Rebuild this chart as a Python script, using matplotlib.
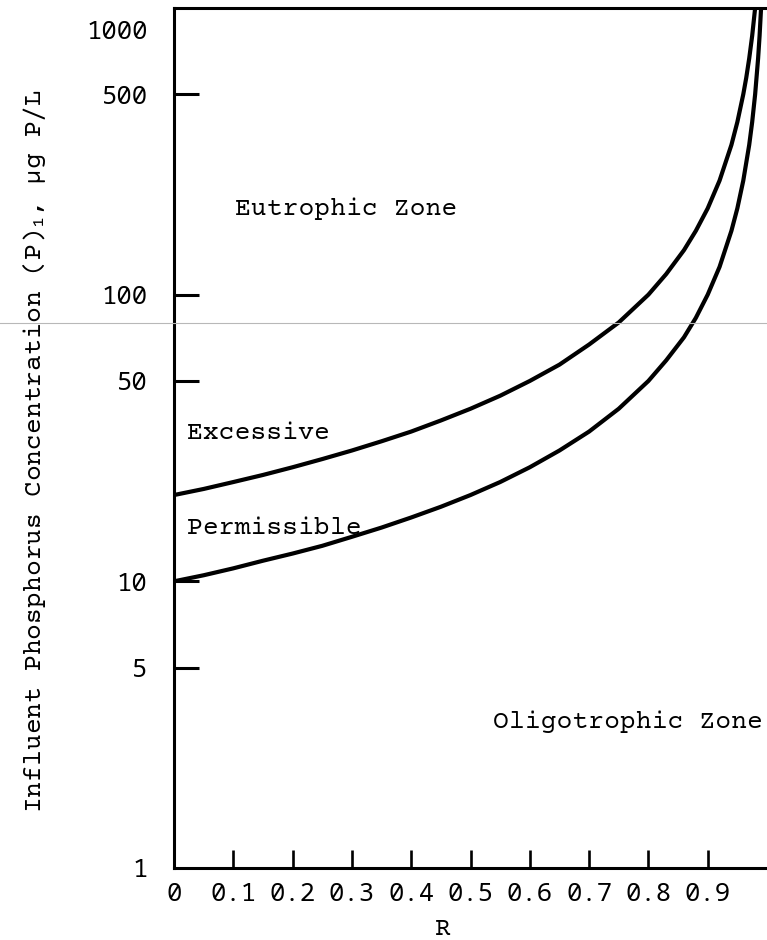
import matplotlib
matplotlib.use("Agg")
import matplotlib.pyplot as plt
from matplotlib.ticker import FixedLocator, FixedFormatter, NullFormatter
from matplotlib.transforms import ScaledTranslation
from matplotlib.lines import Line2D

# Boundary between "excessive" and "eutrophic" loading
r_upper = [0, 0.05, 0.1, 0.15, 0.2, 0.25, 0.3, 0.35, 0.4, 0.45, 0.5, 0.55,
           0.6, 0.65, 0.7, 0.75, 0.8, 0.83, 0.86, 0.88, 0.9, 0.92, 0.94,
           0.95, 0.96, 0.965, 0.97, 0.975, 0.98]
p_upper = [20, 21, 22.2, 23.5, 25, 26.7, 28.6, 30.8, 33.3, 36.4, 40, 44.4,
           50, 57, 67, 80, 100, 118, 143, 167, 200, 250, 333,
           400, 500, 571, 667, 800, 1000]

# Boundary between "permissible" and "oligotrophic" loading
r_lower = [0, 0.05, 0.1, 0.15, 0.2, 0.25, 0.3, 0.35, 0.4, 0.45, 0.5, 0.55,
           0.6, 0.65, 0.7, 0.75, 0.8, 0.83, 0.86, 0.88, 0.9, 0.92, 0.94,
           0.95, 0.96, 0.97, 0.975, 0.98, 0.985, 0.9875, 0.99]
p_lower = [10, 10.5, 11.1, 11.8, 12.5, 13.3, 14.3, 15.4, 16.7, 18.2, 20, 22.2,
           25, 28.6, 33.3, 40, 50, 59, 71, 83, 100, 125, 167,
           200, 250, 333, 400, 500, 667, 800, 1000]

x_ticks = [0, 0.1, 0.2, 0.3, 0.4, 0.5, 0.6, 0.7, 0.8, 0.9]
x_tick_labels = ["0", "0.1", "0.2", "0.3", "0.4", "0.5", "0.6", "0.7", "0.8", "0.9"]
x_marks = [0.1, 0.2, 0.3, 0.4, 0.5, 0.6, 0.7, 0.8, 0.9]

y_ticks = [1, 5, 10, 50, 100, 500, 1000]
y_tick_labels = ["1", "5", "10", "50", "100", "500", "1000"]
y_marks = [5, 10, 50, 100, 500]

zone_labels = ["Eutrophic Zone", "Excessive", "Permissible", "Oligotrophic Zone"]
zone_r = [0.103, 0.022, 0.022, 0.538]
zone_p = [200, 33, 15.3, 3.25]

TEXT_FONT = ["Courier Prime", "DejaVu Sans Mono"]
TICK_FONT = ["Noto Sans Mono", "DejaVu Sans Mono"]

plt.rcParams["mathtext.fontset"] = "custom"
plt.rcParams["mathtext.rm"] = "Courier Prime"
plt.rcParams["mathtext.it"] = "Courier Prime"

fig = plt.figure(figsize=(7.67, 9.40), dpi=100)
ax = fig.add_axes([0.2269, 0.0766, 0.7731, 0.9149])

ax.plot(r_upper, p_upper, color="black", lw=3, solid_capstyle="butt")
ax.plot(r_lower, p_lower, color="black", lw=3, solid_capstyle="butt")

ax.set_yscale("log")
ax.set_xlim(0, 1.0)
ax.set_ylim(1, 1000)

for side in ("left", "bottom", "top"):
    ax.spines[side].set_linewidth(2.2)
ax.spines["right"].set_visible(False)

# labelled positions carry no tick mark; the marks are minor ticks
ax.xaxis.remove_overlapping_locs = False
ax.yaxis.remove_overlapping_locs = False
ax.xaxis.set_major_locator(FixedLocator(x_ticks))
ax.xaxis.set_major_formatter(FixedFormatter(x_tick_labels))
ax.xaxis.set_minor_locator(FixedLocator(x_marks))
ax.xaxis.set_minor_formatter(NullFormatter())
ax.yaxis.set_major_locator(FixedLocator(y_ticks))
ax.yaxis.set_major_formatter(FixedFormatter(y_tick_labels))
ax.yaxis.set_minor_locator(FixedLocator(y_marks))
ax.yaxis.set_minor_formatter(NullFormatter())

ax.tick_params(axis="x", which="major", length=0, pad=10, labelsize=18.5)
ax.tick_params(axis="x", which="minor", direction="in", length=13, width=1.9)
ax.tick_params(axis="y", which="major", length=0, pad=19, labelsize=18.5)
ax.tick_params(axis="y", which="minor", direction="in", length=18, width=2.2)

for lab in ax.get_xticklabels() + ax.get_yticklabels():
    lab.set_family(TICK_FONT)
    lab.set_fontweight("light")

# the top label sits a little below the frame line
top_label = ax.yaxis.get_major_ticks()[-1].label1
top_label.set_transform(top_label.get_transform()
                        + ScaledTranslation(0, -0.22, fig.dpi_scale_trans))

ax.set_xlabel("R", family=TEXT_FONT, fontsize=19)
ax.xaxis.set_label_coords(0.454, -0.058)
ax.set_ylabel("Influent Phosphorus Concentration (P)$_1$, \u03bcg P/L",
              family=TEXT_FONT, fontsize=19)
ax.yaxis.set_label_coords(-0.212, 0.485)

for text, r, p in zip(zone_labels, zone_r, zone_p):
    ax.text(r, p, text, family=TEXT_FONT, fontsize=19, ha="left", va="center")

# faint horizontal rule running across the sheet
fig.add_artist(Line2D([0, 1], [0.6564, 0.6564], transform=fig.transFigure,
                      color="#b8b8b8", lw=0.8))

fig.savefig("out.png", dpi=100)
